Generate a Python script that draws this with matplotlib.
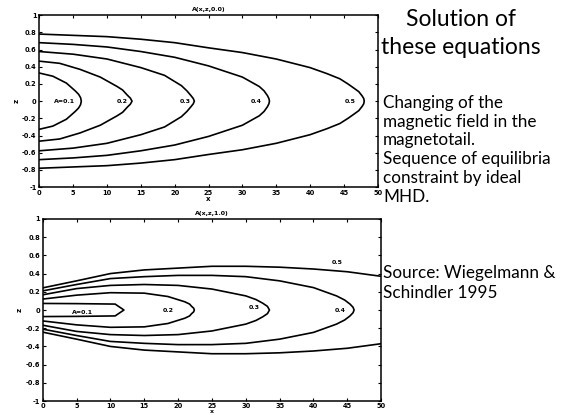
import matplotlib
matplotlib.use("Agg")
import matplotlib.pyplot as plt
import numpy as np

# contour lines (upper half, z >= 0, mirrored below)
levels = [0.1, 0.2, 0.3, 0.4, 0.5]

# panel 1: A(x,z,0.0)
top_x = [
    [0, 2, 4, 5.3, 5.8, 6.1, 6.2],
    [0, 3, 6, 9, 11.5, 12.3, 13.0, 13.45, 13.7],
    [0, 5, 10, 15, 18.5, 21, 21.8, 22.4, 22.75, 22.9],
    [0, 5, 10, 15, 20, 25, 30, 32.5, 33.2, 33.7, 33.92, 34.0],
    [0, 10, 15, 20, 25, 30, 35, 40, 42.5, 44.4, 45.6, 46.5, 47.2, 47.7, 47.93, 48.0],
]
top_z = [
    [0.327, 0.29, 0.21, 0.12, 0.08, 0.04, 0.0],
    [0.465, 0.44, 0.37, 0.28, 0.17, 0.13, 0.07, 0.035, 0.0],
    [0.577, 0.546, 0.49, 0.39, 0.30, 0.18, 0.12, 0.065, 0.03, 0.0],
    [0.68, 0.66, 0.63, 0.577, 0.51, 0.41, 0.28, 0.17, 0.12, 0.065, 0.03, 0.0],
    [0.78, 0.75, 0.72, 0.68, 0.62, 0.565, 0.49, 0.39, 0.32, 0.26, 0.2, 0.15, 0.11, 0.06, 0.03, 0.0],
]
top_labels = ["A=0.1", "0.2", "0.3", "0.4", "0.5"]
top_label_x = [3.7, 12.2, 21.6, 32.0, 46.0]
top_label_z = [0.0, 0.0, 0.0, 0.0, 0.0]

# panel 2: A(x,z,1.0)
bot_x = [
    [0, 5, 10.7, 12.0],
    [0, 5, 10, 15, 18.5, 21, 21.7, 22.0, 22.3, 22.4],
    [0, 5, 10, 15, 20, 25, 30, 31.5, 32.5, 33.2, 33.5],
    [0, 5, 10, 15, 20, 25, 30, 35, 40, 43.4, 44.6, 45.4, 45.85, 46.0],
    [0, 5, 10, 15, 20, 25, 30, 35, 40, 45, 50],
]
bot_z = [
    [0.072, 0.07, 0.065, 0.0],
    [0.12, 0.163, 0.19, 0.185, 0.148, 0.09, 0.065, 0.04, 0.02, 0.0],
    [0.167, 0.235, 0.27, 0.28, 0.27, 0.23, 0.155, 0.115, 0.075, 0.04, 0.0],
    [0.21, 0.28, 0.345, 0.366, 0.38, 0.38, 0.366, 0.32, 0.246, 0.155, 0.11, 0.065, 0.03, 0.0],
    [0.243, 0.32, 0.40, 0.44, 0.46, 0.48, 0.48, 0.47, 0.45, 0.42, 0.37],
]
bot_labels = ["A=0.1", "0.2", "0.3", "0.4", "0.5"]
bot_label_x = [5.9, 18.5, 31.2, 44.0, 43.5]
bot_label_z = [-0.03, 0.0, 0.03, 0.0, 0.52]

xticks = np.arange(0, 51, 5)
zticks = np.round(np.arange(-1, 1.01, 0.2), 1)

title_text = ["Solution of", "these equations"]
body_text = ["Changing of the", "magnetic field in the", "magnetotail.",
             "Sequence of equilibria", "constraint by ideal", "MHD."]
source_text = ["Source: Wiegelmann &", "Schindler 1995"]


def fmt(v):
    if v == 0:
        return "0"
    if abs(v) == 1:
        return "%d" % v
    return ("%.1f" % v)


def draw_panel(ax, xs, zs, labels, lx, lz, title):
    for x, z in zip(xs, zs):
        x = np.array(x)
        z = np.array(z)
        if z[-1] == 0:
            ax.plot(np.concatenate([x, x[::-1]]), np.concatenate([z, -z[::-1]]),
                    color="black", lw=1.2)
        else:
            ax.plot(x, z, color="black", lw=1.2)
            ax.plot(x, -z, color="black", lw=1.2)
    for t, x, z in zip(labels, lx, lz):
        ax.text(x, z, t, fontsize=4.5, fontweight="bold", ha="center", va="center")
    ax.set_xlim(0, 50)
    ax.set_ylim(-1, 1)
    ax.set_xticks(xticks)
    ax.set_yticks(zticks)
    ax.set_yticklabels([fmt(v) for v in zticks])
    ax.tick_params(direction="in", length=2.5, width=0.8, top=True, right=True,
                   labelsize=4.8, pad=2)
    for lab in ax.get_xticklabels() + ax.get_yticklabels():
        lab.set_fontweight("bold")
    for s in ax.spines.values():
        s.set_linewidth(1.1)
    ax.set_title(title, fontsize=4.5, fontweight="bold", pad=3)
    ax.set_ylabel("z", fontsize=5, fontweight="bold", labelpad=2)


fig = plt.figure(figsize=(5.65, 4.15), dpi=100)

ax1 = fig.add_axes([0.0696, 0.549, 0.599, 0.4145])
draw_panel(ax1, top_x, top_z, top_labels, top_label_x, top_label_z, "A(x,z,0.0)")
ax1.set_xlabel("x", fontsize=5, fontweight="bold", labelpad=0)

ax2 = fig.add_axes([0.0756, 0.0335, 0.599, 0.439])
ax2.tick_params(axis="x", pad=1.5)
draw_panel(ax2, bot_x, bot_z, bot_labels, bot_label_x, bot_label_z, "A(x,z,1.0)")
ax2.tick_params(axis="x", pad=1.5)
ax2.set_xlabel("x", fontsize=4.5, fontweight="bold", labelpad=-0.3)

W, H = 565.0, 415.0
fam = ["Lato", "DejaVu Sans"]
for t, y in zip(title_text, [20, 48]):
    fig.text(461 / W, 1 - y / H, t, fontsize=16.5, family=fam, ha="center", va="center")
for t, y in zip(body_text, [103, 122, 140, 159, 178, 197]):
    fig.text(383 / W, 1 - y / H, t, fontsize=12.3, family=fam, ha="left", va="center")
for t, y in zip(source_text, [273, 293]):
    fig.text(383 / W, 1 - y / H, t, fontsize=12.3, family=fam, ha="left", va="center")

fig.savefig("out.png", dpi=100)
